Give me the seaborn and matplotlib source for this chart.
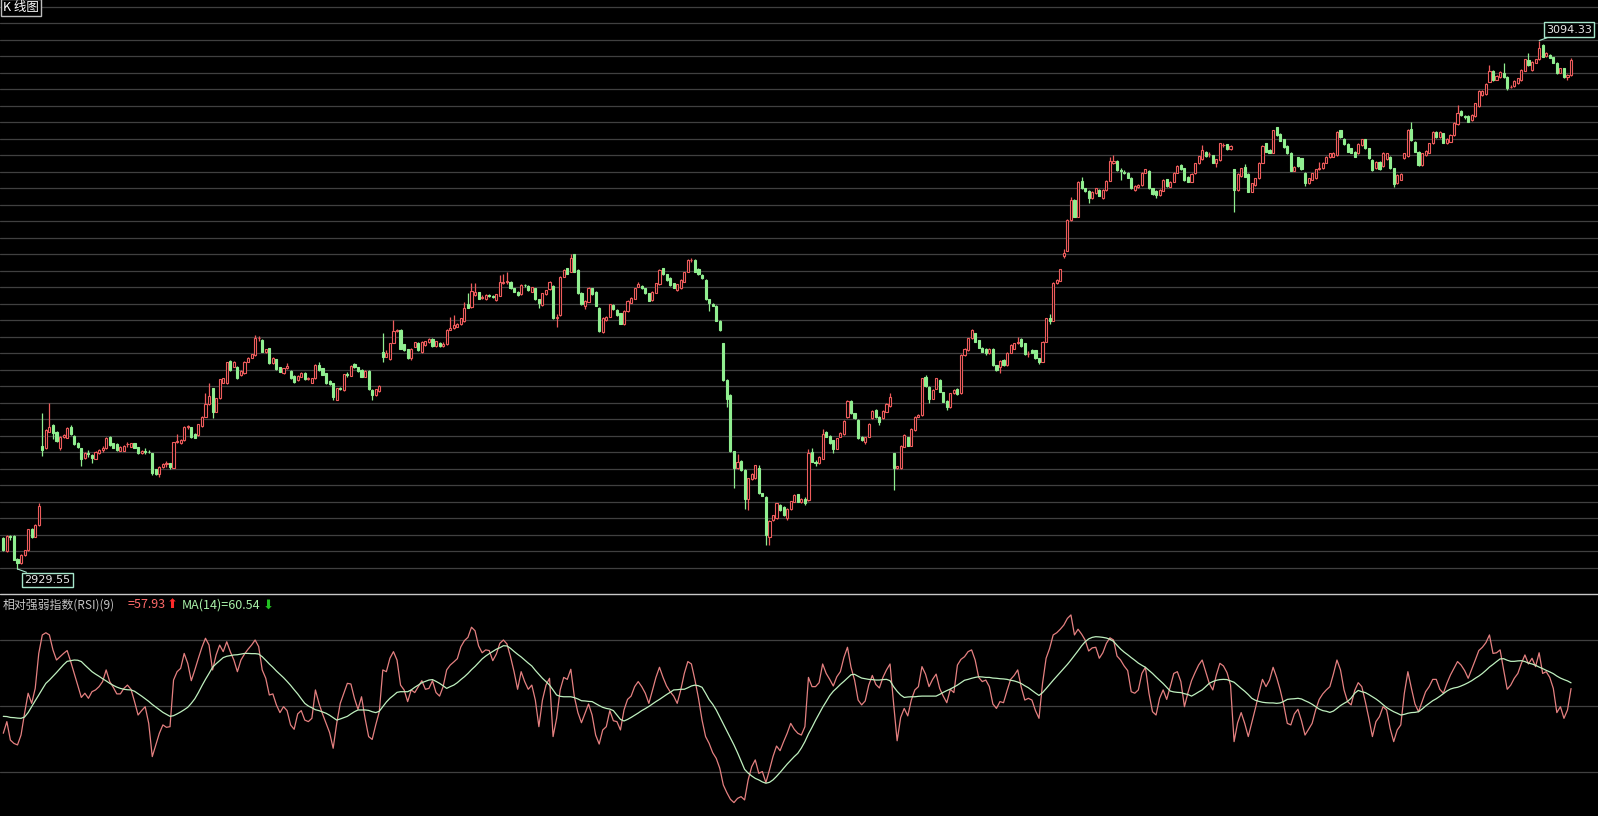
import numpy as np
import matplotlib
matplotlib.use("Agg")
import matplotlib.pyplot as plt
from matplotlib.lines import Line2D
import seaborn as sns

# ---------------- data ----------------
opens = [
2939.1,2935.2,2939.8,2939.7,2932.8,2931.3,2933.9,2935.4,2941.9,2939.6,
2943.2,2967.9,2967.2,2972.4,2974.4,2972.4,2967.2,2970.8,2970.5,2973.9,
2971.0,2968.9,2967.2,2964.2,2965.8,2965.1,2964.0,2965.6,2966.8,2967.2,
2970.8,2968.7,2968.5,2966.4,2966.4,2968.4,2967.7,2968.7,2967.5,2965.6,
2966.2,2966.1,2965.6,2960.6,2959.1,2961.4,2962.3,2962.5,2961.1,2969.0,
2968.7,2969.8,2973.9,2973.7,2971.8,2971.3,2974.1,2977.0,2980.9,2985.9,
2978.6,2982.8,2987.6,2987.4,2994.5,2992.6,2992.6,2990.0,2990.6,2994.2,
2995.4,2996.3,3001.5,3001.0,2997.1,2998.4,2993.7,2994.9,2992.4,2990.6,
2992.1,2991.3,2989.7,2988.5,2989.5,2990.8,2988.9,2987.7,2989.0,2993.2,
2992.1,2990.6,2988.3,2987.4,2982.4,2985.9,2985.4,2990.3,2989.8,2993.5,
2992.4,2991.6,2989.5,2991.3,2985.4,2983.8,2985.0,2997.3,2995.8,2994.9,
3000.1,3003.9,3004.2,2999.6,2998.1,2995.2,2998.9,3000.1,2997.1,2999.4,
3000.2,3001.3,2999.1,3000.1,2999.2,2999.6,3004.2,3004.6,3005.1,3005.8,
3006.9,3012.1,3011.3,3015.0,3015.8,3014.0,3013.7,3015.0,3014.7,3013.4,
3014.8,3018.6,3019.1,3019.1,3017.1,3016.0,3015.3,3018.1,3017.9,3016.0,
3017.1,3013.7,3011.9,3015.2,3016.8,3017.9,3007.7,3008.7,3020.7,3023.3,
3022.3,3027.7,3022.8,3015.7,3011.7,3012.9,3017.1,3016.0,3011.1,3003.5,
3007.2,3008.2,3011.9,3010.3,3009.3,3005.8,3010.0,3012.6,3013.9,3017.6,
3017.8,3017.1,3015.5,3013.4,3015.7,3018.3,3023.3,3021.4,3020.4,3018.6,
3016.5,3017.1,3019.1,3022.3,3025.9,3025.9,3023.1,3021.2,3019.7,3013.7,
3012.2,3011.7,3007.0,2999.9,2988.5,2983.8,2966.3,2960.9,2963.2,2960.4,
2951.5,2957.6,2957.8,2960.9,2953.1,2952.1,2939.6,2944.8,2945.3,2949.5,
2948.9,2945.5,2948.2,2950.5,2952.8,2950.5,2951.5,2951.0,2966.1,2963.0,
2962.5,2964.0,2972.3,2971.0,2969.7,2967.1,2970.8,2971.6,2976.8,2982.0,
2978.1,2976.0,2970.8,2969.2,2970.8,2976.5,2979.1,2977.0,2976.5,2978.6,
2980.3,2965.6,2960.9,2960.9,2967.7,2970.6,2968.0,2972.9,2977.0,2977.5,
2989.3,2986.4,2982.7,2985.8,2988.5,2984.6,2982.0,2980.1,2984.3,2985.8,
2984.3,2996.3,2997.8,3001.5,3003.0,3000.9,2998.6,2998.3,2996.8,2998.3,
2993.1,2992.4,2994.7,2993.1,2997.0,2998.3,2999.9,3001.4,2999.9,2996.6,
2998.0,2997.8,2995.2,2994.2,3000.4,3007.7,3007.0,3018.6,3019.5,3027.1,
3028.8,3038.4,3044.6,3039.4,3050.6,3048.3,3047.4,3045.1,3046.7,3047.9,
3045.1,3047.7,3050.6,3056.1,3056.9,3054.0,3053.5,3053.1,3051.6,3047.7,
3048.6,3049.3,3053.1,3053.7,3048.3,3047.5,3046.2,3047.5,3051.1,3048.8,
3050.3,3053.1,3055.5,3054.5,3051.9,3050.3,3052.9,3056.1,3057.3,3059.7,
3058.9,3058.6,3056.3,3057.1,3061.8,3062.0,3060.4,3054.2,3047.7,3052.1,
3054.8,3052.7,3047.2,3049.3,3051.4,3056.3,3062.3,3060.2,3059.4,3067.3,
3065.2,3063.6,3061.5,3059.4,3053.8,3057.9,3057.6,3053.1,3049.8,3051.0,
3051.4,3054.4,3054.5,3056.3,3057.9,3058.1,3058.6,3066.4,3063.8,3062.1,
3060.7,3059.7,3059.2,3061.8,3063.5,3060.7,3057.1,3054.5,3056.6,3055.2,
3057.3,3058.1,3054.5,3049.8,3051.0,3057.6,3058.3,3066.9,3062.8,3059.7,
3055.5,3058.6,3059.4,3062.3,3065.9,3064.2,3065.4,3062.3,3062.8,3064.9,
3068.3,3072.5,3070.7,3070.8,3069.6,3070.8,3073.9,3077.4,3077.7,3081.5,
3084.9,3082.2,3082.9,3084.3,3083.1,3079.9,3080.2,3081.0,3082.0,3085.0,
3088.3,3085.2,3087.4,3088.5,3093.0,3089.5,3089.9,3089.1,3087.5,3084.3,
3085.7,3082.9,3083.6]

highs = [
2939.6,2940.1,2940.3,2940.0,2933.0,2934.1,2935.6,2942.1,2942.2,2943.5,
2950.2,2978.1,2973.1,2981.2,2974.7,2972.6,2971.0,2971.8,2973.8,2974.6,
2971.2,2969.1,2967.4,2966.0,2966.8,2965.3,2966.3,2967.0,2967.9,2970.7,
2971.0,2968.9,2968.7,2967.9,2968.1,2969.2,2968.9,2968.9,2967.7,2966.6,
2967.2,2966.6,2965.8,2960.8,2961.6,2962.6,2963.3,2962.7,2969.2,2971.8,
2970.0,2974.1,2974.4,2973.9,2972.0,2974.9,2977.2,2984.3,2987.4,2986.1,
2983.0,2988.9,2989.2,2994.2,2994.7,2994.4,2992.8,2991.6,2994.4,2995.6,
2996.7,3002.5,3002.2,3001.2,2998.3,2998.6,2995.6,2995.1,2992.6,2992.3,
2993.7,2991.5,2989.9,2989.9,2991.0,2991.0,2989.4,2989.2,2993.4,2994.2,
2992.3,2990.8,2988.5,2987.6,2986.1,2986.2,2990.5,2991.1,2993.1,2993.7,
2992.6,2991.8,2991.6,2991.5,2985.6,2985.8,2986.8,3003.2,2998.0,3000.1,
3007.2,3004.4,3004.5,2999.8,2998.3,2998.5,3000.4,3000.3,3000.6,3000.8,
3001.5,3001.5,3000.8,3000.3,3000.4,3004.4,3008.2,3008.7,3006.3,3007.9,
3012.9,3015.5,3018.8,3018.8,3016.0,3015.0,3015.2,3015.3,3015.0,3015.4,
3021.2,3021.4,3022.1,3019.3,3017.3,3016.2,3018.3,3018.5,3018.1,3017.6,
3017.3,3013.9,3015.7,3016.7,3019.3,3018.1,3009.0,3020.9,3023.0,3023.5,
3027.8,3027.9,3023.0,3015.9,3013.3,3017.5,3017.3,3016.2,3011.3,3008.1,
3008.4,3012.3,3012.1,3010.5,3009.5,3010.2,3013.3,3014.4,3017.3,3019.1,
3018.0,3017.3,3015.7,3016.2,3018.8,3023.0,3023.5,3021.6,3020.6,3018.8,
3018.5,3019.9,3022.3,3026.1,3026.4,3026.1,3023.3,3021.4,3019.9,3013.9,
3012.4,3011.9,3007.2,3000.1,2988.7,2984.0,2966.5,2965.3,2963.4,2960.6,
2958.0,2959.5,2962.1,2962.1,2953.3,2952.3,2944.7,2946.5,2950.2,2949.9,
2949.1,2948.6,2950.9,2952.8,2953.0,2951.8,2952.0,2967.1,2967.4,2963.5,
2964.7,2973.1,2972.5,2971.2,2969.9,2970.5,2972.2,2976.0,2982.2,2982.2,
2978.3,2976.2,2971.0,2970.8,2975.1,2979.0,2979.3,2977.2,2979.1,2981.2,
2984.3,2965.8,2961.8,2968.1,2971.5,2970.8,2973.4,2977.2,2977.8,2989.2,
2990.0,2986.6,2985.7,2989.2,2988.7,2984.8,2982.2,2984.5,2985.7,2986.0,
2996.5,2998.5,3001.7,3004.3,3003.2,3001.1,2998.8,2998.5,2998.5,2998.5,
2993.3,2994.7,2994.9,2997.2,2999.6,3000.1,3001.8,3001.6,3000.1,2997.6,
2998.2,2998.0,2995.4,3000.6,3007.9,3009.0,3019.0,3019.9,3023.2,3029.5,
3038.6,3045.7,3044.8,3050.5,3051.9,3048.5,3047.6,3047.4,3048.5,3048.1,
3048.1,3050.8,3058.1,3058.7,3057.1,3054.5,3053.9,3053.3,3051.8,3049.2,
3049.5,3053.3,3054.4,3053.9,3048.5,3047.7,3048.1,3051.1,3051.3,3050.5,
3053.3,3055.4,3055.7,3054.7,3052.1,3052.9,3056.3,3058.5,3061.8,3059.9,
3059.7,3058.8,3057.5,3062.5,3062.3,3062.2,3061.7,3054.4,3052.9,3054.7,
3056.0,3052.9,3050.0,3051.6,3056.5,3061.7,3062.5,3060.4,3066.6,3067.5,
3065.4,3063.8,3061.7,3059.6,3055.2,3058.1,3057.8,3053.3,3051.6,3053.1,
3054.4,3056.6,3056.5,3058.3,3059.4,3059.6,3066.1,3066.6,3064.0,3062.3,
3060.9,3059.9,3062.3,3063.7,3063.7,3060.9,3057.3,3056.8,3056.8,3059.6,
3059.4,3058.3,3054.7,3052.6,3052.9,3059.4,3066.8,3069.0,3063.0,3059.9,
3059.4,3060.2,3062.5,3066.1,3066.1,3066.1,3065.6,3064.0,3065.1,3068.9,
3074.2,3072.7,3071.2,3071.0,3071.3,3075.0,3078.9,3078.9,3081.0,3086.7,
3085.1,3083.5,3084.8,3087.2,3083.3,3080.5,3082.0,3082.8,3085.4,3088.7,
3090.6,3088.0,3088.7,3094.33,3093.2,3090.8,3090.1,3089.3,3087.7,3085.9,
3085.9,3083.8,3088.8]

lows = [
2935.2,2935.0,2938.6,2932.3,2929.55,2931.0,2933.7,2935.2,2939.3,2939.4,
2943.0,2964.9,2966.9,2972.2,2970.0,2969.2,2966.6,2970.3,2970.3,2971.4,
2968.3,2967.3,2961.7,2964.0,2964.6,2962.7,2963.8,2965.4,2966.1,2967.0,
2968.0,2967.2,2966.4,2966.2,2966.2,2967.7,2967.5,2967.2,2965.4,2965.4,
2965.4,2965.6,2958.8,2958.9,2958.3,2961.2,2961.4,2960.6,2960.9,2968.8,
2968.5,2969.6,2973.2,2970.4,2970.3,2971.1,2973.9,2976.8,2980.7,2976.5,
2978.4,2982.6,2987.4,2987.2,2991.4,2992.4,2988.8,2989.8,2990.4,2994.0,
2995.2,2996.1,3000.7,2997.1,2996.9,2993.5,2993.5,2991.6,2990.9,2990.4,
2991.8,2988.8,2987.4,2988.3,2989.3,2988.6,2988.6,2987.5,2988.8,2991.4,
2990.0,2987.2,2987.0,2982.4,2982.2,2985.3,2985.2,2989.5,2989.6,2992.2,
2991.1,2989.3,2989.3,2985.4,2982.2,2983.6,2984.8,2994.2,2995.7,2994.7,
2999.9,3003.4,2998.1,2997.6,2995.0,2994.7,2998.7,2997.6,2996.9,2999.2,
3000.0,2998.9,2998.9,2998.9,2998.9,2999.4,3004.1,3004.4,3004.9,3005.6,
3006.7,3010.8,3011.1,3014.8,3013.7,3013.7,3013.5,3014.3,3014.0,3013.2,
3014.6,3018.4,3018.3,3016.9,3015.8,3014.8,3015.1,3017.6,3016.3,3015.8,
3013.5,3010.8,3011.7,3015.0,3016.6,3007.4,3004.9,3008.5,3020.5,3021.5,
3022.1,3022.1,3015.3,3011.9,3010.6,3012.7,3015.0,3011.5,3003.6,3003.3,
3007.0,3008.0,3010.4,3008.5,3005.9,3005.6,3009.8,3012.4,3013.7,3017.4,
3016.9,3015.3,3013.0,3013.2,3015.5,3018.1,3021.2,3019.5,3017.9,3017.1,
3016.3,3016.9,3018.9,3022.1,3025.4,3022.1,3021.2,3020.0,3013.5,3010.0,
3011.5,3006.8,3003.9,2988.3,2980.1,2966.1,2954.7,2960.7,2960.2,2948.2,
2947.9,2957.4,2957.6,2952.9,2952.2,2937.0,2937.0,2944.6,2945.1,2947.7,
2946.1,2944.8,2948.0,2950.3,2950.3,2950.0,2949.6,2950.8,2962.8,2961.6,
2962.3,2963.8,2970.6,2968.5,2965.6,2966.9,2970.6,2971.4,2976.6,2977.9,
2976.3,2970.1,2969.5,2968.5,2970.6,2976.3,2976.6,2974.4,2976.3,2978.4,
2980.1,2954.1,2960.7,2960.7,2967.5,2967.8,2967.8,2972.7,2976.8,2977.3,
2986.4,2981.2,2982.5,2985.6,2984.6,2981.5,2979.1,2979.9,2984.1,2983.9,
2984.1,2996.1,2997.6,3001.3,3000.2,2998.4,2997.1,2996.4,2996.6,2992.9,
2991.4,2990.7,2992.9,2992.9,2996.8,2998.1,2999.7,2998.9,2996.4,2995.6,
2996.8,2995.0,2993.4,2994.0,3000.2,3006.0,3006.8,3018.4,3019.3,3026.4,
3028.6,3038.2,3039.2,3039.2,3048.1,3047.2,3043.6,3044.9,3046.5,3045.8,
3044.9,3047.5,3050.4,3055.9,3053.8,3050.9,3052.6,3051.4,3048.1,3047.5,
3048.4,3049.1,3052.9,3048.1,3046.3,3045.1,3046.0,3047.3,3048.8,3048.6,
3050.1,3052.9,3054.1,3050.7,3050.1,3050.1,3052.7,3055.9,3057.1,3058.1,
3058.1,3056.1,3055.0,3056.9,3061.3,3060.2,3060.2,3041.0,3047.5,3051.9,
3051.7,3047.0,3047.0,3049.1,3051.2,3056.1,3059.5,3059.2,3059.2,3064.7,
3062.9,3060.8,3059.0,3053.6,3053.6,3055.0,3054.0,3049.1,3049.6,3050.8,
3051.2,3054.0,3054.3,3056.1,3057.7,3057.9,3058.4,3064.0,3061.9,3059.5,
3059.2,3057.9,3059.0,3061.6,3060.5,3057.4,3053.8,3054.3,3054.0,3055.0,
3057.1,3054.3,3048.8,3049.6,3050.8,3057.4,3058.1,3063.1,3059.5,3055.3,
3055.3,3058.4,3059.2,3062.1,3064.0,3064.0,3062.3,3062.1,3062.6,3064.7,
3068.1,3070.9,3070.0,3068.8,3069.4,3070.6,3073.7,3077.2,3077.5,3081.3,
3081.8,3082.0,3082.7,3082.7,3078.9,3079.4,3080.0,3080.8,3081.8,3084.8,
3086.5,3085.0,3087.2,3088.3,3089.1,3089.3,3088.8,3087.3,3083.9,3084.1,
3082.7,3082.2,3083.4]

closes = [
2935.4,2939.8,2939.6,2932.5,2931.3,2933.9,2935.4,2941.9,2939.6,2943.2,
2949.2,2966.6,2972.9,2973.9,2972.0,2969.4,2970.8,2971.3,2973.6,2971.6,
2968.5,2967.5,2964.0,2965.8,2965.4,2964.3,2966.1,2966.8,2967.2,2970.5,
2968.2,2967.4,2966.6,2967.7,2967.9,2968.5,2968.7,2967.4,2965.6,2966.4,
2966.1,2966.0,2959.4,2959.1,2961.4,2962.3,2962.5,2961.4,2969.0,2969.4,
2969.8,2973.9,2973.9,2970.6,2970.5,2974.7,2977.0,2980.9,2983.5,2978.6,
2982.8,2988.7,2989.0,2994.0,2991.6,2994.2,2989.0,2991.4,2994.2,2995.4,
2996.5,3001.5,3001.5,2997.3,2998.1,2993.7,2995.4,2991.8,2991.1,2992.1,
2992.8,2989.0,2988.0,2989.7,2990.8,2988.8,2989.0,2989.0,2993.2,2991.6,
2990.2,2987.4,2987.2,2983.1,2985.9,2985.7,2990.3,2990.2,2992.9,2992.4,
2991.3,2989.5,2991.4,2985.6,2983.8,2985.6,2986.6,2995.8,2996.8,2999.9,
3003.9,3003.9,2998.3,2997.8,2995.2,2998.3,3000.2,2997.8,3000.4,3000.6,
3001.3,2999.1,3000.6,2999.1,2999.7,3004.2,3004.8,3005.6,3006.1,3007.7,
3011.0,3011.0,3016.2,3016.0,3013.9,3014.5,3015.0,3014.8,3014.5,3015.2,
3019.1,3019.1,3019.2,3017.1,3016.0,3015.0,3018.1,3018.0,3016.5,3017.4,
3013.7,3012.4,3015.5,3016.5,3019.1,3007.7,3008.2,3020.7,3022.8,3021.7,
3026.6,3022.3,3015.5,3012.1,3013.1,3017.3,3015.2,3011.7,3003.8,3007.9,
3008.2,3012.1,3010.6,3008.7,3006.1,3010.0,3013.1,3014.2,3017.1,3018.3,
3017.3,3015.5,3013.2,3016.0,3018.6,3022.8,3021.4,3019.7,3018.1,3017.3,
3018.3,3019.7,3022.1,3025.9,3026.0,3022.3,3021.4,3020.2,3013.7,3012.4,
3011.7,3007.0,3004.1,2988.5,2982.7,2966.3,2960.9,2963.0,2960.4,2951.5,
2957.8,2959.3,2961.9,2953.1,2952.4,2940.1,2944.5,2946.3,2950.0,2947.9,
2946.3,2948.4,2950.7,2952.6,2950.5,2951.5,2950.0,2965.6,2963.0,2962.5,
2964.5,2971.8,2970.8,2968.7,2967.1,2970.3,2972.0,2975.8,2982.0,2978.1,
2976.5,2970.3,2969.7,2970.6,2974.9,2978.8,2976.8,2975.5,2978.9,2981.0,
2983.3,2960.9,2961.6,2967.9,2971.3,2968.0,2973.2,2977.0,2977.5,2989.0,
2986.6,2982.7,2985.5,2989.0,2984.8,2981.7,2980.1,2984.3,2985.5,2984.1,
2996.3,2998.3,3001.5,3004.1,3000.4,2998.6,2997.3,2997.0,2998.3,2993.1,
2991.6,2994.5,2993.1,2997.0,2999.4,2999.9,3000.4,2999.1,2996.6,2996.6,
2997.0,2995.2,2994.2,3000.4,3007.7,3007.0,3018.8,3019.7,3023.0,3028.0,
3038.4,3044.6,3039.4,3050.3,3048.3,3047.4,3045.1,3047.2,3048.3,3046.0,
3047.9,3050.6,3056.9,3056.9,3054.0,3053.8,3053.2,3051.6,3048.3,3049.0,
3049.3,3053.1,3054.2,3048.3,3046.5,3046.2,3047.9,3050.9,3049.0,3050.3,
3053.1,3055.2,3054.3,3050.9,3050.3,3052.7,3056.1,3058.3,3060.2,3058.3,
3058.9,3056.3,3057.3,3062.3,3061.8,3060.4,3061.5,3047.7,3052.7,3054.5,
3051.9,3047.2,3049.8,3051.4,3056.3,3061.5,3059.7,3059.4,3066.4,3064.9,
3063.1,3061.0,3059.2,3053.8,3055.0,3055.2,3054.2,3050.0,3051.4,3052.9,
3054.2,3054.5,3056.3,3058.1,3059.2,3059.4,3065.9,3064.2,3062.1,3059.7,
3059.4,3058.1,3062.1,3063.5,3060.7,3057.6,3054.0,3056.6,3054.2,3059.4,
3059.2,3054.5,3049.6,3052.4,3052.7,3059.2,3066.6,3063.3,3059.7,3055.5,
3059.2,3060.0,3062.3,3065.9,3064.2,3065.9,3062.5,3063.8,3064.9,3068.7,
3071.9,3071.1,3070.6,3069.0,3071.1,3074.8,3078.7,3078.7,3080.8,3084.9,
3082.0,3083.3,3084.6,3082.9,3079.4,3080.0,3081.8,3082.6,3085.2,3088.5,
3086.7,3087.8,3088.5,3091.9,3089.3,3090.6,3089.0,3087.5,3084.1,3085.7,
3082.9,3083.6,3088.3]

rsi9 = [
37.6,42.9,34.5,33.0,32.3,36.8,46.7,55.8,51.2,58.0,
73.9,82.3,83.3,82.3,75.5,70.9,72.4,73.9,75.2,70.2,
64.8,59.5,53.9,55.8,53.5,56.5,57.3,58.8,61.1,66.4,
61.1,58.5,55.5,55.5,58.0,59.5,57.6,52.0,45.9,47.9,
49.7,42.1,27.0,32.3,37.6,41.4,40.3,40.6,61.8,65.6,
67.1,73.9,69.4,61.5,66.4,71.7,76.7,80.8,77.7,66.4,
73.2,77.7,74.7,79.2,74.7,70.9,65.6,70.9,73.6,75.8,
77.7,80.0,77.0,66.4,62.6,55.0,55.5,50.5,47.0,49.7,
47.9,41.4,39.4,46.4,47.9,43.6,42.9,44.4,57.3,51.2,
46.4,42.1,37.9,30.8,42.1,51.2,55.8,60.3,60.0,53.5,
48.5,54.2,44.4,36.1,34.8,41.4,47.4,66.4,65.6,71.7,
74.7,70.9,59.5,57.3,52.0,57.3,56.1,58.8,61.5,57.6,
58.0,61.5,56.1,54.5,58.8,66.4,68.6,70.0,71.5,76.9,
79.7,81.2,85.8,84.2,77.3,74.2,75.5,75.2,70.6,73.6,
78.5,80.0,78.2,72.4,65.6,57.6,65.6,61.1,57.6,59.5,
52.7,40.6,52.7,59.5,62.6,36.1,44.4,57.3,63.0,62.1,
66.7,54.2,47.0,42.4,46.7,50.9,45.9,36.8,32.7,39.1,
40.6,47.9,43.3,42.9,39.1,48.2,53.0,54.5,58.8,61.1,
58.8,55.8,51.2,57.0,63.0,67.6,63.0,59.1,56.5,54.5,
51.2,57.3,64.8,70.2,69.1,61.8,53.5,43.6,36.1,33.0,
28.8,26.2,21.7,14.1,10.6,7.6,6.1,8.0,8.8,7.3,
16.4,22.4,25.5,19.4,20.2,15.2,20.9,27.0,31.8,29.7,
33.8,37.6,42.1,39.4,37.6,
36.8,40.6,63.0,58.8,58.8,60.6,69.1,64.8,62.1,59.1,
63.3,65.6,72.1,76.7,67.6,61.8,52.7,50.5,52.3,59.5,
63.9,59.8,58.2,63.0,66.4,69.1,51.2,34.2,44.8,48.9,
45.5,52.7,57.3,58.8,67.9,64.5,58.8,62.1,64.5,58.0,
54.5,51.5,57.6,56.1,68.6,71.2,72.4,74.7,75.5,70.9,
63.0,61.1,61.8,58.8,50.9,48.9,52.0,51.5,57.0,62.1,
63.9,66.4,58.5,52.7,53.5,52.7,47.9,44.4,60.3,71.7,
76.2,82.3,83.3,84.9,86.8,89.8,91.4,82.3,84.9,82.7,
80.0,75.0,76.4,76.7,71.7,74.2,78.5,81.0,80.0,72.7,
70.9,68.2,66.1,56.5,55.8,57.3,64.8,67.6,55.8,47.4,
45.9,53.5,57.3,53.0,58.8,64.8,65.6,61.1,49.7,56.1,
61.5,65.2,68.6,70.9,65.6,60.3,57.3,64.1,69.4,68.2,
65.2,59.5,33.8,42.4,47.0,42.1,36.1,42.4,48.9,55.8,
62.1,58.8,61.8,67.6,63.0,57.3,50.5,42.1,41.4,46.4,
48.5,43.3,36.8,39.4,42.1,48.2,53.0,55.5,57.3,58.8,
64.5,70.9,66.4,57.3,52.0,50.5,57.0,60.6,58.8,52.0,
44.4,36.1,42.9,45.2,49.7,48.2,39.8,33.8,39.1,41.4,
55.8,65.6,58.0,50.9,47.4,52.0,56.5,58.8,62.1,62.1,
57.6,55.8,60.3,64.1,67.1,70.2,68.6,66.1,62.6,66.7,
70.9,75.2,76.7,78.8,82.3,73.9,74.2,75.5,66.4,57.6,
59.5,62.6,64.8,69.4,73.2,69.1,71.7,67.9,74.2,64.8,
65.6,63.0,58.0,47.0,49.7,44.4,48.2,57.93]

rsi_ma14 = [
45.3,45.2,44.8,44.7,44.5,44.4,45.0,47.0,49.7,52.4,
55.0,57.7,60.3,61.8,63.5,65.2,67.0,68.8,70.3,70.6,
70.9,70.8,70.2,68.6,67.1,65.6,64.5,63.5,62.4,61.4,
60.3,59.4,58.6,58.0,57.6,57.4,57.3,56.7,55.6,54.5,
53.3,52.1,50.7,49.5,48.3,47.1,46.2,45.3,45.6,46.4,
47.3,48.3,49.4,51.2,53.3,56.1,59.2,62.1,64.8,67.6,
69.2,70.6,72.0,72.6,72.9,73.2,73.3,73.6,73.9,73.9,
73.8,73.8,73.6,72.4,70.8,69.1,67.6,65.9,64.4,62.9,
61.2,59.4,57.4,55.5,53.3,51.2,50.0,49.2,48.3,47.9,
47.3,46.7,45.8,44.7,43.6,44.1,44.7,45.3,46.4,47.4,
48.2,48.2,48.2,48.0,47.4,47.0,47.6,49.7,51.8,53.5,
54.8,56.2,56.5,56.5,56.5,57.3,58.5,59.5,60.6,61.2,
61.8,62.0,61.2,60.3,59.2,58.0,58.8,59.5,60.6,62.0,
63.3,64.8,66.5,68.0,69.7,71.4,72.7,73.8,74.8,75.8,
76.5,77.4,77.3,76.2,74.8,73.5,72.3,70.9,69.5,68.2,
66.2,64.4,62.6,61.1,59.5,57.3,55.0,54.4,54.2,54.2,
54.2,53.8,53.2,52.4,52.3,52.1,52.0,51.1,50.2,49.4,
48.9,48.6,47.9,45.9,43.9,43.2,43.9,44.8,45.8,46.8,
47.9,48.8,49.8,50.9,52.0,53.0,54.1,55.2,56.2,57.3,
57.4,57.6,57.6,58.3,59.1,59.5,59.2,58.5,55.8,52.9,
50.8,48.2,45.0,41.8,38.6,35.5,32.3,28.8,25.0,21.2,
19.5,18.2,17.1,16.4,15.5,14.9,15.3,16.4,18.0,19.8,
21.7,23.6,25.3,27.0,28.5,
30.9,33.8,37.3,40.3,43.5,46.5,49.4,52.0,54.7,56.7,
58.2,59.8,61.2,62.7,64.2,64.4,63.5,62.7,62.4,62.1,
62.0,61.8,61.8,62.0,62.1,61.5,58.8,56.7,55.0,53.9,
54.1,54.2,54.2,54.4,54.5,54.5,54.5,54.5,54.5,55.3,
56.2,57.0,57.7,58.6,59.5,60.6,61.7,62.1,62.6,63.0,
63.3,63.2,63.0,63.0,62.7,62.6,62.4,62.3,62.1,61.7,
61.4,60.9,60.2,59.2,58.3,57.1,55.9,54.8,56.1,57.9,
59.8,61.7,63.5,65.3,67.1,68.9,70.9,73.0,75.1,77.3,
79.2,80.5,81.2,81.5,81.4,81.2,80.9,80.3,79.4,77.6,
75.9,74.5,73.3,72.0,70.8,69.5,68.5,67.6,66.2,64.8,
63.2,61.7,60.2,58.5,56.8,56.4,56.2,56.1,55.6,55.2,
54.5,55.4,56.4,57.3,58.8,60.3,61.1,61.7,62.0,62.1,
62.0,61.4,60.8,59.4,58.0,56.7,55.2,53.5,52.6,52.1,
51.7,51.5,51.4,51.4,51.2,51.4,52.1,53.0,53.2,53.3,
53.5,53.2,52.4,51.7,50.8,49.7,48.6,47.9,47.6,47.1,
47.7,48.9,50.2,51.2,52.1,53.6,55.8,57.1,56.5,56.1,
55.2,54.2,53.2,52.0,50.6,49.3,48.3,47.4,46.7,45.9,
46.2,46.7,47.0,47.1,47.4,48.6,50.0,51.2,52.4,53.3,
54.4,55.6,56.8,57.7,58.2,58.5,59.1,59.8,60.6,61.5,
62.6,63.6,64.8,66.2,67.7,68.9,70.2,71.4,71.5,70.8,
70.3,70.3,70.5,70.6,70.2,69.5,69.1,68.5,67.7,67.0,
66.2,65.5,64.7,63.6,62.7,62.0,61.4,60.54]

panel_title = "K 线图"
rsi_title = "相对强弱指数(RSI)(9)"
rsi_levels = [20, 50, 80]

# ---------------- style ----------------
sns.set_theme(style="dark", rc={"axes.facecolor": "black", "figure.facecolor": "black"})
plt.rcParams["font.family"] = ["Noto Sans CJK SC", "DejaVu Sans"]

RED = "#ee5c5c"
GREEN = "#90ee90"
GRID = "#404040"
RSI_C = "#e58080"
MA_C = "#bff0bf"
BOX_C = "#a6e6cc"

W, H = 1598, 816
SEP = 594
fig = plt.figure(figsize=(W / 100, H / 100), dpi=100)
fig.patch.set_facecolor("black")

ax = fig.add_axes([0, 1 - SEP / H, 1, SEP / H])
ax2 = fig.add_axes([0, 0, 1, 220 / H])

o = np.array(opens); h = np.array(highs); l = np.array(lows); c = np.array(closes)
n = len(o)
idx = np.arange(n)
up = c >= o

XL = (-0.93, 449.6)

# candles
ax.vlines(idx[up], l[up], h[up], color=RED, lw=0.9, zorder=2)
ax.vlines(idx[~up], l[~up], h[~up], color=GREEN, lw=0.9, zorder=2)
bot = np.minimum(o, c)
hgt = np.maximum(np.abs(c - o), 0.12)
ax.bar(idx[up], hgt[up], bottom=bot[up], width=0.6, facecolor="black",
       edgecolor=RED, linewidth=0.8, zorder=3)
ax.bar(idx[~up], hgt[~up], bottom=bot[~up], width=0.6, facecolor=GREEN,
       edgecolor=GREEN, linewidth=0.8, zorder=3)

ax.set_xlim(*XL)
ax.set_ylim(2921.75, 3107.0)
for k in range(35):
    f = 1 - (6.7 + 16.5 * k) / SEP
    ax.plot([0, 1], [f, f], transform=ax.transAxes, color=GRID, lw=0.9, zorder=0)
ax.set_axis_off()

# min / max annotations
imin = int(np.argmin(l)); imax = int(np.argmax(h))
ax.annotate(f"{l[imin]:.2f}", xy=(imin, l[imin]), xytext=(7, -11),
            textcoords="offset pixels", ha="left", va="center", color="#e6e6e6",
            fontsize=8, family="DejaVu Sans",
            bbox=dict(boxstyle="square,pad=0.2", fc="black", ec=BOX_C, lw=1),
            arrowprops=dict(arrowstyle="-", color=BOX_C, lw=0.8, shrinkA=0, shrinkB=0),
            zorder=5)
ax.annotate(f"{h[imax]:.2f}", xy=(imax, h[imax]), xytext=(7, 11),
            textcoords="offset pixels", ha="left", va="center", color="#e6e6e6",
            fontsize=8, family="DejaVu Sans",
            bbox=dict(boxstyle="square,pad=0.2", fc="black", ec=BOX_C, lw=1),
            arrowprops=dict(arrowstyle="-", color=BOX_C, lw=0.8, shrinkA=0, shrinkB=0),
            zorder=5)

# RSI panel
sns.lineplot(x=idx, y=rsi9, ax=ax2, color=RSI_C, linewidth=0.9, estimator=None, sort=False)
sns.lineplot(x=idx, y=rsi_ma14, ax=ax2, color=MA_C, linewidth=0.9, estimator=None, sort=False)
for lv in rsi_levels:
    ax2.axhline(lv, color=GRID, lw=0.9, zorder=0)
ax2.set_xlim(*XL)
ax2.set_ylim(0, 100)
ax2.set_axis_off()

# separator line
ys = 1 - SEP / H
fig.add_artist(Line2D([0, 1], [ys, ys], transform=fig.transFigure, color="#c8c8c8", lw=1))

# titles
def px(x, y):
    return x / W, 1 - y / H

fig.text(*px(3, 7.5), panel_title, color="white", fontsize=9, ha="left", va="center",
         bbox=dict(boxstyle="square,pad=0.18", fc="black", ec="#bdbdbd", lw=1))

ty = 605
fig.text(*px(3, ty), rsi_title, color="#c4c4c4", fontsize=8.6, ha="left", va="center")
fig.text(*px(128, ty), f"={rsi9[-1]:.2f}", color="#ff6a6a", fontsize=9, ha="left", va="center")
fig.text(*px(167, ty), "\u2b06", color="#ff2a2a", fontsize=9.5,
         ha="left", va="center", family="DejaVu Sans")
fig.text(*px(182, ty), f"MA(14)={rsi_ma14[-1]:.2f}", color="#a8f0a8", fontsize=9,
         ha="left", va="center")
fig.text(*px(263, ty), "\u2b07", color="#22c022", fontsize=9.5,
         ha="left", va="center", family="DejaVu Sans")

fig.savefig("out.png", dpi=100, facecolor="black")
